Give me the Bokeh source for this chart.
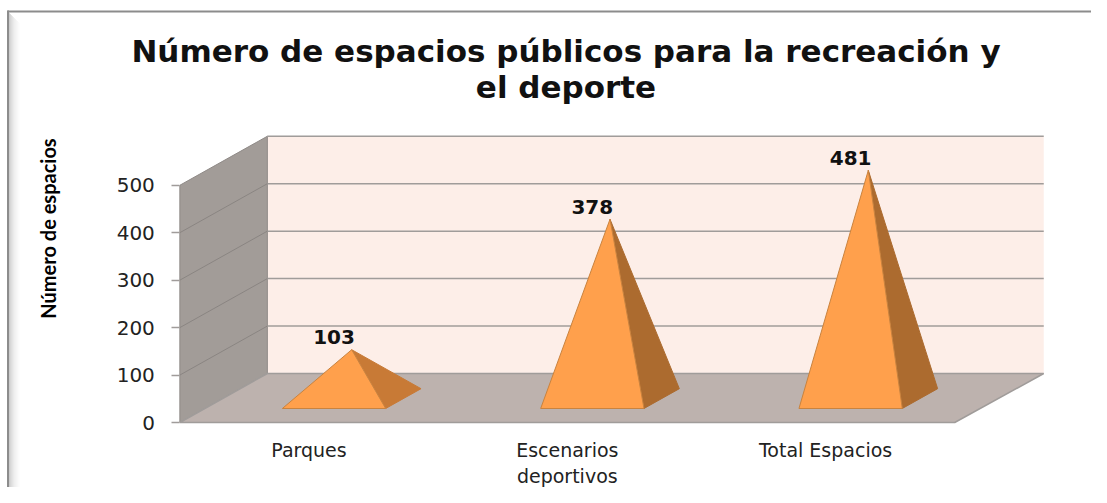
from math import pi
from bokeh.plotting import figure
from bokeh.models import Range1d, LinearAxis, FixedTicker, ColumnDataSource
from bokeh.core.properties import value
from bokeh.embed import file_html
from bokeh.resources import INLINE

categories = ["Parques", "Escenarios\ndeportivos", "Total Espacios"]
values = [103, 378, 481]
y_ticks = [0, 100, 200, 300, 400, 500]
title_lines = ["Número de espacios públicos para la recreación y", "el deporte"]
y_title = "Número de espacios"

W, H = 1091, 487
CAT_PX = 258.3
X0_PX = 308.5
Y0_PX = 422.0
UNIT_PX = 0.4745
DX_PX, DY_PX = 87.5, 49.0

xs0 = (0 - X0_PX) / CAT_PX
xs1 = (W - X0_PX) / CAT_PX
ys0 = (Y0_PX - H) / UNIT_PX
ys1 = Y0_PX / UNIT_PX

p = figure(width=W, height=H, output_backend="svg", toolbar_location=None,
           x_range=Range1d(xs0, xs1), y_range=Range1d(ys0, ys1),
           min_border=0, x_axis_type=None, y_axis_type=None, outline_line_color=None)
p.grid.visible = False
p.background_fill_color = "white"

def px(x):
    return (x - X0_PX) / CAT_PX
def py(y):
    return (Y0_PX - y) / UNIT_PX
def proj(cat, val, d):
    return cat + d * DX_PX / CAT_PX, val + d * DY_PX / UNIT_PX

# chart-area frame with bevel
shades = ["#b4b4b4", "#c2c2c2", "#cdcdcd", "#d6d6d6", "#dedede", "#e5e5e5",
          "#ebebeb", "#f0f0f0", "#f4f4f4", "#f8f8f8", "#fbfbfb"]
for i, c in enumerate(shades):
    xa, xb = 8 + i, 9 + i
    p.patch([px(xa), px(xb), px(xb), px(xa)],
            [py(12 + i), py(13 + i), py(H + 5), py(H + 5)], fill_color=c, line_color=None)
p.line([px(7), px(W + 5)], [py(11), py(11)], line_color="#8c8c8c", line_width=2)
p.line([px(7.5), px(7.5)], [py(10), py(H + 5)], line_color="#8c8c8c", line_width=2)

top = y_ticks[-1]
left, right = -0.5, 2.5
EDGE = "#a09c9a"

# back wall
bx, by = zip(*[proj(left, 0, 1), proj(right + 1.5 / CAT_PX, 0, 1), proj(right + 1.5 / CAT_PX, top, 1), proj(left, top, 1)])
p.patch(list(bx), list(by), fill_color="#FDEEE8", line_color=None)
# side wall
sx, sy = zip(*[proj(left, 0, 0), proj(left, 0, 1), proj(left, top, 1), proj(left, top, 0)])
p.patch(list(sx), list(sy), fill_color="#A29C98", line_color="#8f8a87", line_width=1)
# floor
fx, fy = zip(*[proj(left, 0, 0), proj(right, 0, 0), proj(right + 1.5 / CAT_PX, 0, 1), proj(left, 0, 1)])
p.patch(list(fx), list(fy), fill_color="#BDB2AE", line_color=EDGE, line_width=1.5)

for t in y_ticks:
    a, b = proj(left, t, 1), proj(right + 1.5 / CAT_PX, t, 1)
    if t > 0:
        p.line([a[0], b[0]], [a[1], b[1]], line_color=EDGE, line_width=1.5)
    c = proj(left, t, 0)
    if 0 < t < top:
        p.line([c[0], a[0]], [c[1], a[1]], line_color="#8a8582", line_width=1)

# pyramids
HALF = 0.2
D_FRONT, D_BACK = 0.286, 0.69
D_MID = (D_FRONT + D_BACK) / 2
side_colors = ["#C87A36", "#AC6B2F", "#AC6B2F"]
for i, v in enumerate(values):
    fl = proj(i - HALF, 0, D_FRONT)
    fr = proj(i + HALF, 0, D_FRONT)
    br = proj(i + HALF, 0, D_BACK)
    ap = proj(i, v, D_MID)
    p.patch([fr[0], br[0], ap[0]], [fr[1], br[1], ap[1]], fill_color=side_colors[i],
            line_color=side_colors[i], line_width=1)
    p.patch([fl[0], fr[0], ap[0]], [fl[1], fr[1], ap[1]], fill_color="#FFA04C",
            line_color="#C9833F", line_width=1)

# data labels
lab_x = [proj(i, 0, D_FRONT)[0] for i in range(len(values))]
lab_y = [proj(i, v, D_MID)[1] + 5.5 / UNIT_PX for i, v in enumerate(values)]
src = ColumnDataSource(dict(x=lab_x, y=lab_y, t=[str(v) for v in values]))
p.text("x", "y", text="t", source=src, text_font=value("DejaVu Sans"), text_font_style="bold",
       text_font_size="20px", text_color="#111111", text_align="center", text_baseline="bottom")

# axes
ya = LinearAxis(ticker=FixedTicker(ticks=y_ticks), fixed_location=left, bounds=(0, top))
ya.axis_line_color = None
ya.major_tick_line_color = EDGE
ya.major_tick_line_width = 1.5
ya.major_tick_in = 0
ya.major_tick_out = 8
ya.minor_tick_line_color = None
ya.major_label_text_font = "DejaVu Sans"
ya.major_label_text_font_size = "20px"
ya.major_label_text_color = "#222222"
ya.major_label_standoff = 17
p.add_layout(ya, "left")

xa = LinearAxis(ticker=FixedTicker(ticks=list(range(len(categories)))), fixed_location=0,
                major_label_overrides={i: c for i, c in enumerate(categories)})
xa.axis_line_color = None
xa.major_tick_line_color = None
xa.minor_tick_line_color = None
xa.major_label_text_font = "DejaVu Sans"
xa.major_label_text_font_size = "19px"
xa.major_label_text_color = "#222222"
xa.major_label_standoff = 10
p.add_layout(xa, "below")

# titles
p.text([px(565.5)], [py(50)], text=[title_lines[0]], text_font=value("DejaVu Sans"), text_font_style="bold",
       text_font_size="31px", text_color="#111111", text_align="center", text_baseline="middle")
p.text([px(565.5)], [py(86)], text=[title_lines[1]], text_font=value("DejaVu Sans"), text_font_style="bold",
       text_font_size="31px", text_color="#111111", text_align="center", text_baseline="middle")
p.text([px(47)], [py(228)], text=[y_title], angle=pi / 2, text_font=value("Lato"),
       text_font_style="bold", text_font_size="20px", text_color="#000000",
       text_align="center", text_baseline="middle")

open("out.html", "w").write(file_html(p, INLINE))
